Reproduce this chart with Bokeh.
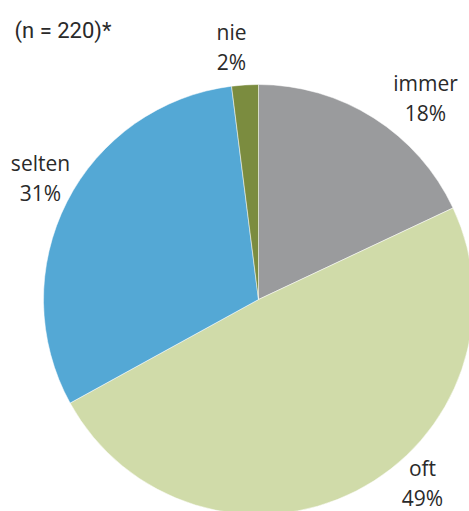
import math
from bokeh.plotting import figure
from bokeh.models import Range1d, ColumnDataSource
from bokeh.core.properties import value
from bokeh.embed import file_html
from bokeh.resources import INLINE

# Data
categories = ["immer", "oft", "selten", "nie"]
shares = [18, 49, 31, 2]
colors = ["#9A9B9D", "#D0DBA9", "#54A8D5", "#7B8C3F"]
note = "(n = 220)*"

# Layout (pixel-like data units, origin bottom-left)
W, H = 469, 511
cx, cy, R = 258, 212, 215
label_pos = {"immer": (425, 429), "oft": (422, 44), "selten": (40, 349), "nie": (231, 480)}
line_gap = 30

total = sum(shares)
starts, ends = [], []
acc = 0.0
for s in shares:
    starts.append(math.pi / 2 - 2 * math.pi * acc / total)
    acc += s
    ends.append(math.pi / 2 - 2 * math.pi * acc / total)

src = ColumnDataSource(dict(cat=categories, val=shares, color=colors,
                            start=starts, end=ends,
                            x=[cx] * len(shares), y=[cy] * len(shares)))

p = figure(width=W, height=H, x_range=Range1d(0, W), y_range=Range1d(0, H),
           output_backend="svg", toolbar_location=None, min_border=0)
p.axis.visible = False
p.grid.visible = False
p.outline_line_color = None
p.background_fill_color = "white"

p.wedge(x="x", y="y", radius=R, start_angle="start", end_angle="end",
        direction="clock", color="color", line_color="white", line_width=0.5,
        source=src)

lx = [label_pos[c][0] for c in categories]
ly = [label_pos[c][1] for c in categories]
p.text(x=lx, y=ly, text=categories, text_align="center", text_baseline="alphabetic",
       text_font=value("Open Sans"), text_font_size="21px", text_color="#2a2a2a")
p.text(x=lx, y=[v - line_gap for v in ly], text=[f"{v}%" for v in shares],
       text_align="center", text_baseline="alphabetic",
       text_font=value("Open Sans"), text_font_size="21px", text_color="#2a2a2a")

p.text(x=[14], y=[481], text=[note], text_align="left", text_baseline="alphabetic",
       text_font=value("Roboto"), text_font_size="22px", text_color="#2a2a2a")

open("out.html", "w").write(file_html(p, INLINE))
